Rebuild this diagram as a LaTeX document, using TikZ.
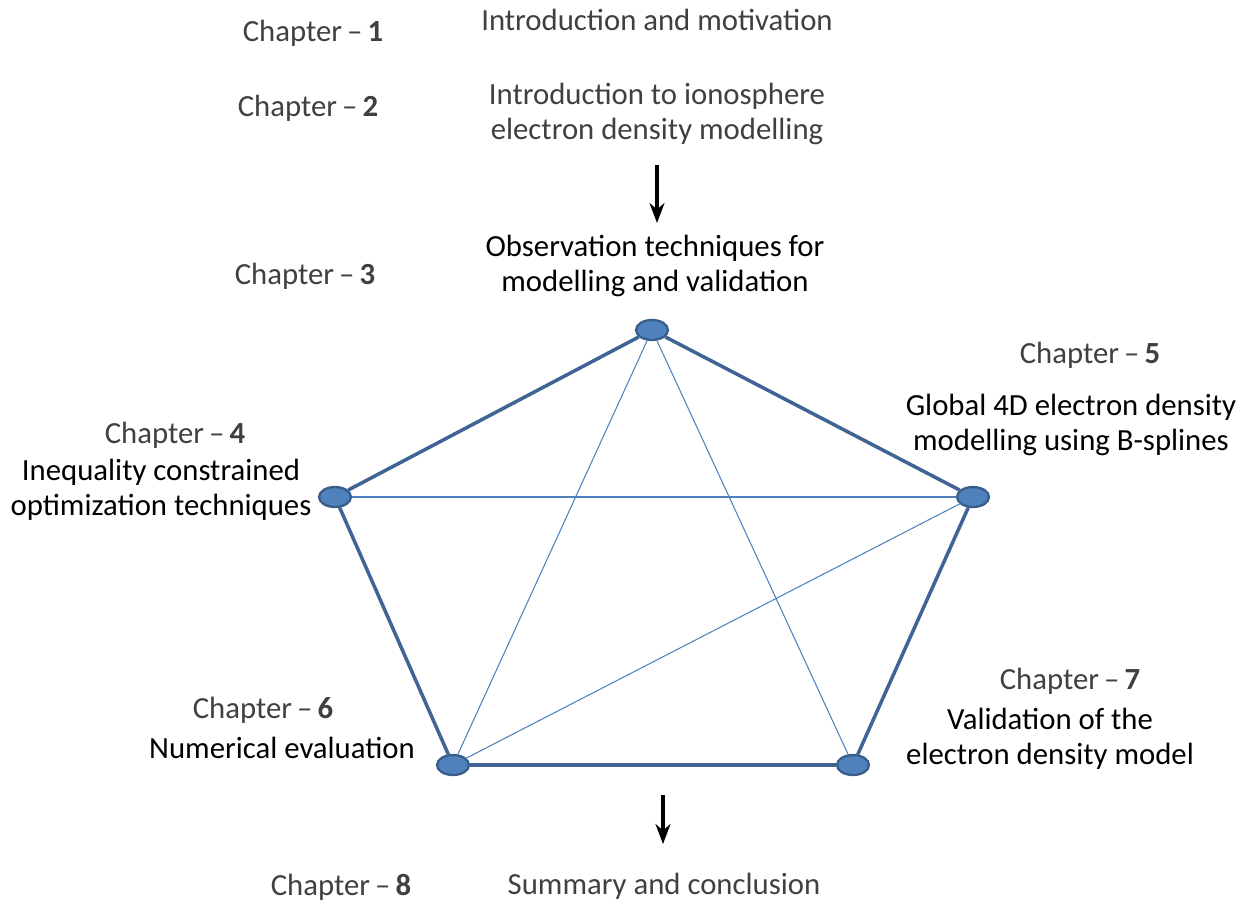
\documentclass[tikz,border=0pt]{standalone}
\usepackage{fontspec}
\setmainfont{Carlito}
\usepackage{tikz}
\usetikzlibrary{arrows.meta,shapes.geometric}
\definecolor{nodeblue}{RGB}{79,129,189}
\definecolor{rimblue}{RGB}{56,93,138}
\definecolor{edgeblue}{RGB}{64,100,150}
\definecolor{textgray}{RGB}{64,64,64}

\begin{document}
\begin{tikzpicture}[x=0.02cm, y=-0.02cm, every node/.style={font=\fontsize{17.5}{20}\selectfont,align=center,inner sep=0pt},
 chap/.style={text=textgray},
 title/.style={text=textgray},
 topic/.style={text=black},
 vertex/.style={ellipse, draw=rimblue, line width=1.3pt, fill=nodeblue, minimum width=0.64cm, minimum height=0.4cm},
 outer/.style={draw=edgeblue, line width=2pt},
 inner/.style={draw=nodeblue, line width=0.6pt},
 flow/.style={-{Stealth[length=4mm,width=3mm]}, line width=1.8pt, black}]
\useasboundingbox (0,0) rectangle (1250,905);
% chapters 1 and 2
\node[chap] (c1) at (313,33) {Chapter\,--\,\textbf{1}};
\node[title] (t1) at (657,20) {Introduction and motivation};
\node[chap] (c2) at (308,108) {Chapter\,--\,\textbf{2}};
\node[title] (t2) at (657,114) {Introduction to ionosphere\\electron density modelling};
\coordinate (a1s) at (657,165);
\coordinate (a1e) at (657,223);
\draw[flow] (a1s)--(a1e);
% pentagon
\node[vertex] (v3) at (652,330) {};
\node[vertex] (v4) at (335,497) {};
\node[vertex] (v5) at (973,497) {};
\node[vertex] (v6) at (453,765) {};
\node[vertex] (v7) at (853,765) {};
\draw[outer] (v3)--(v5);
\draw[outer] (v5)--(v7);
\draw[outer] (v7)--(v6);
\draw[outer] (v6)--(v4);
\draw[outer] (v4)--(v3);
\draw[inner] (v3)--(v6);
\draw[inner] (v3)--(v7);
\draw[inner] (v4)--(v5);
\draw[inner] (v6)--(v5);
% labels
\node[chap] (c3) at (305,276) {Chapter\,--\,\textbf{3}};
\node[topic] (t3) at (655,266) {Observation techniques for\\modelling and validation};
\node[chap] (c5) at (1090,355) {Chapter\,--\,\textbf{5}};
\node[topic] (t5) at (1071,425) {Global 4D electron density\\modelling using B-splines};
\node[chap] (c4) at (175,435) {Chapter\,--\,\textbf{4}};
\node[topic] (t4) at (161,490) {Inequality constrained\\optimization techniques};
\node[chap] (c7) at (1070,681) {Chapter\,--\,\textbf{7}};
\node[topic] (t7) at (1050,739) {Validation of the\\electron density model};
\node[chap] (c6) at (263,710) {Chapter\,--\,\textbf{6}};
\node[topic] (t6) at (282,748) {Numerical evaluation};
% chapter 8
\coordinate (a2s) at (663,795);
\coordinate (a2e) at (663,844);
\draw[flow] (a2s)--(a2e);
\node[chap] (c8) at (341,887) {Chapter\,--\,\textbf{8}};
\node[title] (t8) at (664,886) {Summary and conclusion};
\end{tikzpicture}
\end{document}
